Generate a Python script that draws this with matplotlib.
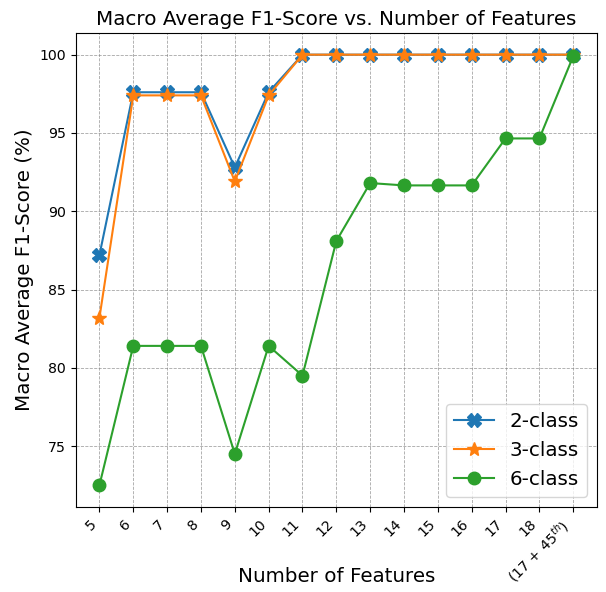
import numpy as np
import matplotlib
matplotlib.use('Agg')
import matplotlib.pyplot as plt

# Feature counts (x tick labels)
features = ['5', '6', '7', '8', '9', '10', '11', '12', '13', '14', '15', '16', '17', '18',
            '(17 + 45$^{th}$)']

# Macro average F1-scores (%)
f1_2class = [87.2, 97.6, 97.6, 97.6, 92.8, 97.6, 100, 100, 100, 100, 100, 100, 100, 100, 100]
f1_3class = [83.2, 97.4, 97.4, 97.4, 91.9, 97.4, 100, 100, 100, 100, 100, 100, 100, 100, 100]
f1_6class = [72.5, 81.4, 81.4, 81.4, 74.5, 81.4, 79.5, 88.1, 91.8, 91.65, 91.65, 91.65,
             94.65, 94.65, 99.9]

x = np.arange(len(features))

fig, ax = plt.subplots(figsize=(6.06, 5.92), dpi=100)
fig.subplots_adjust(left=0.125, right=0.985, top=0.944, bottom=0.144)

ax.plot(x, f1_2class, marker='X', markersize=10, linewidth=1.5, label='2-class')
ax.plot(x, f1_3class, marker='*', markersize=10, linewidth=1.5, label='3-class')
ax.plot(x, f1_6class, marker='o', markersize=9, linewidth=1.5, label='6-class')

ax.set_xticks(x)
ax.set_xticklabels(features, rotation=45, ha='right', fontsize=10.2)
ax.tick_params(axis='y', labelsize=10.2)
ax.set_xlabel('Number of Features', fontsize=14.3)
ax.xaxis.set_label_coords(0.5, -0.128)
ax.set_ylabel('Macro Average F1-Score (%)', fontsize=14.3)
ax.set_title('Macro Average F1-Score vs. Number of Features', fontsize=14.3)
ax.grid(True, linestyle='--', linewidth=0.6, color='gray', alpha=0.7)
ax.legend(loc='lower right', fontsize=14.3)

plt.savefig('out.png')
